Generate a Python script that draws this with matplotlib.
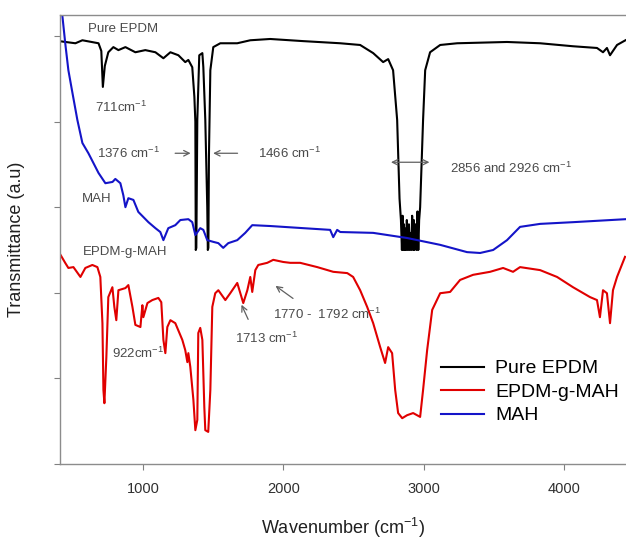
import numpy as np
import matplotlib.pyplot as plt

plt.rcParams['font.family'] = ['Liberation Sans', 'DejaVu Sans']
plt.rcParams['mathtext.fontset'] = 'custom'
plt.rcParams['mathtext.rm'] = 'Liberation Sans'
plt.rcParams['mathtext.it'] = 'Liberation Sans'

# Pure EPDM (wavenumber cm-1, transmittance a.u.)
epdm_wn = [400, 445, 515, 565, 680, 700, 711, 725, 750, 786, 822, 872, 943, 1014, 1086,
           1143, 1193, 1250, 1299, 1321, 1349, 1364, 1371, 1374, 1378, 1385, 1399, 1421, 1428,
           1442, 1456, 1460, 1464, 1468, 1478, 1499, 1549, 1670, 1763, 1905, 2141, 2405, 2547,
           2640, 2711, 2747, 2782, 2811, 2828, 2838, 2845, 2850, 2855, 2860, 2866, 2870, 2876,
           2880, 2888, 2895, 2900, 2905, 2912, 2918, 2925, 2930, 2935, 2942, 2950, 2956, 2962,
           2968, 2975, 2996, 3011, 3046, 3118, 3239, 3595, 3831, 4066, 4237,
           4280, 4308, 4330, 4380, 4440]
epdm_t = [98.8, 98.6, 98.3, 99.0, 98.3, 96.5, 88.1, 93.0, 96.2, 97.4, 96.7, 97.4, 96.2, 96.7, 96.2,
          94.8, 96.2, 95.5, 93.9, 94.4, 92.7, 85.8, 80.0, 50.0, 50.5, 80.4, 95.5, 96.0, 92.7,
          80.4, 60.0, 50.0, 50.5, 72.0, 92.0, 97.4, 98.3, 98.3, 99.0, 99.3, 98.8, 98.3, 97.9,
          96.0, 93.9, 94.6, 92.0, 80.4, 62.0, 57.0, 50.0, 58.0, 50.0, 56.0, 50.0, 55.0, 50.0,
          57.0, 50.0, 56.0, 50.0, 54.0, 50.0, 58.0, 50.0, 57.0, 50.0, 56.0, 50.0, 59.0, 50.0,
          57.0, 60.0, 80.4, 92.0, 96.2, 97.9, 98.3, 98.6, 98.3, 97.6, 97.2,
          96.2, 97.2, 95.5, 97.9, 99.0]

# EPDM-g-MAH
graft_wn = [401, 444, 465, 501, 551, 586, 636, 672, 693, 708, 715, 722, 736, 750, 779,
            793, 807, 822, 872, 893, 922, 943, 979, 993, 1000, 1029, 1064, 1107, 1128,
            1143, 1157, 1171, 1193, 1228, 1278, 1299, 1314, 1321, 1335, 1357, 1371, 1385,
            1392, 1406, 1421, 1435, 1442, 1463, 1478, 1492, 1513, 1535, 1585, 1620, 1670,
            1692, 1713, 1742, 1763, 1777, 1799, 1820, 1884, 1927, 1998, 2048, 2119, 2241,
            2355, 2455, 2497, 2547, 2597, 2640, 2690, 2725, 2747, 2775, 2797, 2818, 2847,
            2882, 2925, 2975, 2996, 3025, 3061, 3118, 3189, 3260, 3353, 3474, 3567, 3638,
            3688, 3831, 3952, 4066, 4187, 4237, 4258, 4280, 4308, 4330, 4351, 4380, 4437]
graft_t = [49.3, 46.9, 45.8, 46.0, 43.7, 45.8, 46.5, 46.0, 43.7, 32.9, 17.3, 14.2, 25.0, 39.0, 41.3,
           36.7, 33.6, 40.6, 41.1, 41.8, 36.7, 32.5, 32.0, 37.1, 34.3, 37.6, 38.3, 38.8, 37.8,
           29.0, 25.9, 32.0, 33.6, 32.9, 29.0, 26.6, 23.8, 25.9, 22.7, 15.0, 7.9, 10.3,
           30.6, 31.8, 29.0, 13.3, 7.9, 7.5, 17.3, 36.7, 39.9, 40.6, 38.3, 39.9, 42.3,
           39.9, 37.6, 40.6, 43.7, 40.2, 45.3, 46.5, 47.0, 47.7, 47.2, 47.0, 47.0, 46.0,
           44.9, 44.6, 43.7, 40.6, 36.7, 32.9, 27.3, 23.6, 27.3, 25.9, 17.3, 11.9, 10.7,
           11.4, 11.9, 11.0, 17.3, 26.6, 36.0, 39.9, 40.2, 43.0, 44.2, 44.9, 45.8, 44.9,
           46.0, 45.3, 43.7, 41.3, 39.0, 38.3, 34.3, 40.6, 39.9, 32.9, 40.6, 43.7, 48.4]

# MAH
mah_wn = [405, 444, 465, 494, 529, 565, 608, 680, 729, 780, 800, 836, 857, 872, 893, 929,
          964, 1000, 1036, 1086, 1121, 1143, 1178, 1228, 1264, 1321, 1349, 1371, 1406, 1428,
          1456, 1499, 1535, 1570, 1606, 1670, 1727, 1777, 1905, 2141, 2333, 2355, 2383, 2405,
          2640, 2882, 3118, 3310, 3403, 3496, 3595, 3688, 3831, 4066, 4444]
mah_t = [110.0, 97.9, 92.0, 86.7, 80.4, 75.0, 72.6, 68.0, 65.6, 65.9, 66.6, 65.6, 62.8, 60.0, 62.1, 61.7,
         58.9, 57.7, 56.5, 55.1, 54.2, 52.3, 55.1, 55.8, 57.0, 57.2, 56.5, 53.5, 55.1, 54.7,
         52.3, 51.9, 51.6, 50.5, 51.6, 52.3, 54.0, 55.8, 55.6, 55.1, 54.7, 53.0, 54.7, 54.2,
         54.0, 52.8, 51.2, 49.5, 49.3, 50.0, 52.3, 55.4, 56.1, 56.5, 57.2]

fig = plt.figure(figsize=(6.26, 5.48), dpi=100)
ax = fig.add_axes([0.0958, 0.1533, 0.9042, 0.8193])

ax.plot(epdm_wn, epdm_t, color="black", lw=1.5, label="Pure EPDM")
ax.plot(graft_wn, graft_t, color="#e00000", lw=1.5, label="EPDM-g-MAH")
ax.plot(mah_wn, mah_t, color="#1414c8", lw=1.5, label="MAH")

ax.set_xlim(405, 4444)
ax.set_ylim(0, 104.9)
ax.set_xticks([1000, 2000, 3000, 4000])
ax.set_yticks([0, 20, 40, 60, 80, 100])
ax.set_yticklabels([])
ax.tick_params(axis="x", direction="out", length=4, color="#808080", labelsize=10.5, pad=9,
               labelcolor="#303030")
ax.tick_params(axis="y", direction="out", length=4.5, color="#808080")
ax.spines["right"].set_visible(False)
for s in ["left", "bottom", "top"]:
    ax.spines[s].set_color("#8c8c8c")
    ax.spines[s].set_linewidth(1.0)

ax.set_xlabel("Wavenumber (cm$^{-1}$)", fontsize=13, labelpad=14, color="#202020")
ax.set_ylabel("Transmittance (a.u)", fontsize=13, labelpad=17, color="#202020")

# annotations
gray = "#4a4a4a"
fs = 9.5
sup = r"cm$^{\mathregular{-1}}$"
ax.text(608, 101.6, "Pure EPDM", color=gray, fontsize=fs, va="center")
ax.text(658, 83.4, "711" + sup, color=gray, fontsize=fs, va="center")
ax.text(672, 72.6, "1376 " + sup, color=gray, fontsize=fs, va="center")
ax.text(1820, 72.6, "1466 " + sup, color=gray, fontsize=fs, va="center")
ax.text(3189, 69.1, "2856 and 2926 " + sup, color=gray, fontsize=fs, va="center")
ax.text(558, 61.9, "MAH", color=gray, fontsize=fs, va="center")
ax.text(565, 49.5, "EPDM-g-MAH", color=gray, fontsize=fs, va="center")
ax.text(779, 25.9, "922" + sup, color=gray, fontsize=fs, va="center")
ax.text(1656, 29.4, "1713 " + sup, color=gray, fontsize=fs, va="center")
ax.text(1927, 35.0, "1770 -  1792 " + sup, color=gray, fontsize=fs, va="center")

arrow = dict(arrowstyle="->", color="#606060", lw=0.9)
ax.annotate("", xy=(1357, 72.6), xytext=(1207, 72.6), arrowprops=arrow)
ax.annotate("", xy=(1478, 72.6), xytext=(1692, 72.6), arrowprops=arrow)
ax.annotate("", xy=(2747, 70.5), xytext=(3061, 70.5),
            arrowprops=dict(arrowstyle="<->", color="#606060", lw=0.9))
ax.annotate("", xy=(1692, 37.8), xytext=(1756, 33.2), arrowprops=arrow)
ax.annotate("", xy=(1927, 42.0), xytext=(2084, 38.3), arrowprops=arrow)

ax.legend(loc="upper left", bbox_to_anchor=(0.674, 0.232), frameon=False, fontsize=14,
          handlelength=2.2, handletextpad=0.55, labelspacing=0.3, borderpad=0, borderaxespad=0)

fig.savefig("out.png", dpi=100)
